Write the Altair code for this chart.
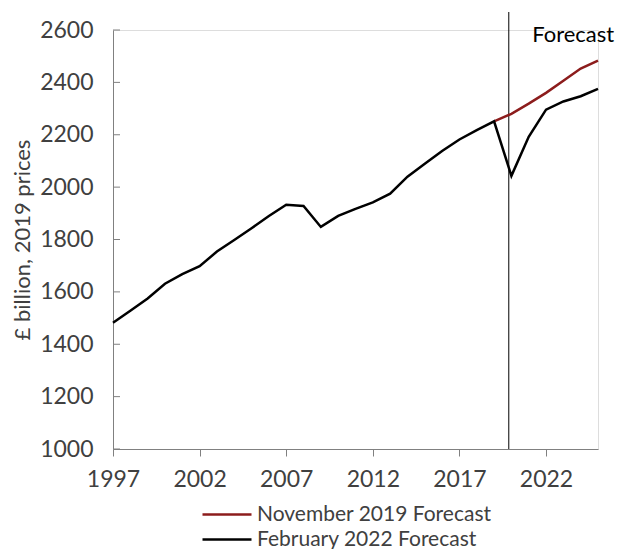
import altair as alt
import pandas as pd

years = list(range(1997, 2026))
feb2022 = [1482, 1528, 1575, 1631, 1668, 1698, 1754, 1798, 1843, 1890, 1933, 1928,
           1848, 1890, 1917, 1942, 1975, 2040, 2089, 2138, 2182, 2218, 2251, 2043,
           2192, 2296, 2327, 2347, 2375]
nov_years = list(range(2019, 2026))
nov2019 = [2251, 2280, 2319, 2360, 2406, 2453, 2483]
series_names = ["November 2019 Forecast", "February 2022 Forecast"]
series_colors = ["#8c1c1c", "#000000"]
y_ticks = [1000, 1200, 1400, 1600, 1800, 2000, 2200, 2400, 2600]
x_ticks = [1997, 2002, 2007, 2012, 2017, 2022]
forecast_start = 2019.85
forecast_label = "Forecast"

df = pd.concat([
    pd.DataFrame({"year": nov_years, "value": nov2019, "series": series_names[0], "ord": 1}),
    pd.DataFrame({"year": years, "value": feb2022, "series": series_names[1], "ord": 0}),
])

W, H = 485, 419
FONT = "Lato"

x_scale = alt.Scale(domain=[1997, 2025], nice=False, zero=False)
y_scale = alt.Scale(domain=[1000, 2600], nice=False, zero=False)

lines = alt.Chart(df).mark_line(strokeWidth=2.5).encode(
    x=alt.X("year:Q", scale=x_scale,
            axis=alt.Axis(values=x_ticks, format="d", title=None, grid=False,
                          tickSize=7, labelPadding=12, domainColor="#808080",
                          tickColor="#808080", labelColor="#404040", labelFlush=False,
                          labelFontSize=23, labelFont=FONT)),
    y=alt.Y("value:Q", scale=y_scale,
            axis=alt.Axis(values=y_ticks, format="d", title="£ billion, 2019 prices", grid=False,
                          tickSize=0, labelPadding=20, domainColor="#808080",
                          labelColor="#404040", labelFontSize=23, labelFont=FONT,
                          titleFont=FONT, titleFontSize=22, titleFontWeight="normal",
                          titleColor="#404040", titlePadding=5)),
    color=alt.Color("series:N",
                    scale=alt.Scale(domain=series_names, range=series_colors),
                    legend=alt.Legend(title=None, orient="none", legendX=123, legendY=474,
                                      symbolType="M-8.8,0L1,0", symbolSize=100,
                                      symbolStrokeWidth=2.5, labelFontSize=21,
                                      labelFont=FONT, labelColor="#404040", labelLimit=500,
                                      labelOffset=0, rowPadding=3)),
    order=alt.Order("ord:Q"),
)

ytick_rules = alt.Chart(pd.DataFrame({"v": y_ticks})).mark_rule(
    color="#808080", strokeWidth=1
).encode(y=alt.Y("v:Q", scale=y_scale), x=alt.value(0), x2=alt.value(7))

vline = alt.Chart(pd.DataFrame({"x": [forecast_start]})).mark_rule(
    color="#000000", strokeWidth=1, clip=False
).encode(x=alt.X("x:Q", scale=x_scale), y=alt.value(-18), y2=alt.value(H))

label = alt.Chart(pd.DataFrame({"x": [2021.2], "y": [2581], "t": [forecast_label]})).mark_text(
    align="left", baseline="middle", font=FONT, fontSize=22, color="#000000"
).encode(x=alt.X("x:Q", scale=x_scale), y=alt.Y("y:Q", scale=y_scale), text="t:N")

chart = alt.layer(ytick_rules, vline, lines, label).properties(
    width=W, height=H,
    autosize=alt.AutoSizeParams(type="none"),
    padding={"left": 105, "top": 22, "right": 17, "bottom": 112},
).configure_view(stroke=None).configure(font=FONT)

chart.save("out.html", embed_options={"renderer": "svg", "actions": False})
